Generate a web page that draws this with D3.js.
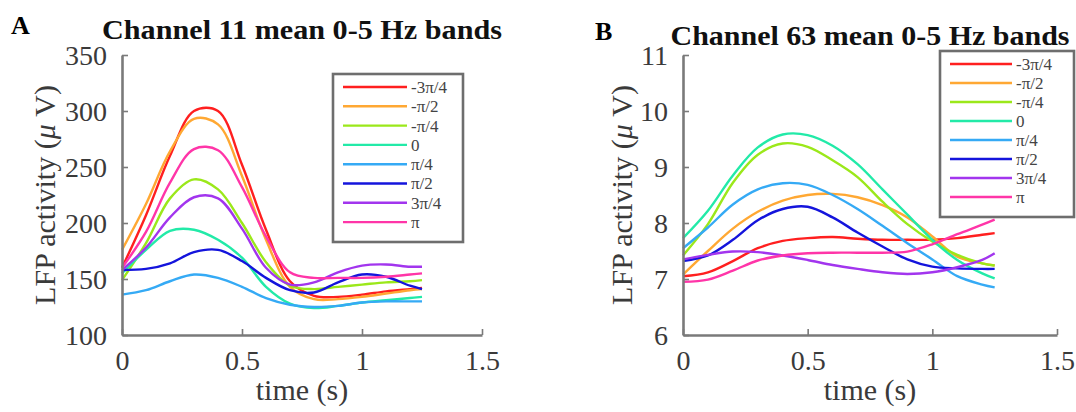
<!DOCTYPE html>
<html>
<head>
<meta charset="utf-8">
<script src="https://cdn.jsdelivr.net/npm/d3@7/dist/d3.min.js"></script>
<style>
  html, body { margin: 0; padding: 0; background: #fff; }
  svg { display: block; }
  svg text { font-family: "Liberation Serif", serif; }
</style>
</head>
<body>
<svg id="fig" width="1076" height="412"></svg>
<script>
const FONT = "Liberation Serif";

// Sample times (s) shared by every trace
const time = [0, 0.1, 0.2, 0.3, 0.4, 0.5, 0.6, 0.7, 0.8, 0.9, 1.0, 1.1, 1.2, 1.25];

// Phase bins and their colours
const phaseLabels = ["-3\u03c0/4", "-\u03c0/2", "-\u03c0/4", "0", "\u03c0/4", "\u03c0/2", "3\u03c0/4", "\u03c0"];
const phaseColors = ["#ff1f1f", "#ffa833", "#9be81a", "#22eaa8", "#35aaf5", "#1414dc", "#a235ee", "#ff35a8"];

// Channel 11, mean LFP activity (µV) per phase bin
const ch11_m3pi4 = [160, 207, 260, 300, 300, 252, 194, 148, 135, 134, 136, 139, 141, 142];
const ch11_mpi2  = [176, 217, 264, 293, 288, 242, 185, 143, 132, 132, 134, 137, 140, 141];
const ch11_mpi4  = [149, 182, 222, 239, 230, 200, 165, 144, 141, 143, 145, 147, 148, 149];
const ch11_0     = [155, 176, 193, 194, 185, 169, 143, 128, 124, 126, 129, 131, 133, 134];
const ch11_pi4   = [136, 140, 148, 154, 151, 143, 133, 127, 125, 126, 129, 130, 130, 130];
const ch11_pi2   = [158, 159, 164, 174, 176, 166, 151, 140, 138, 147, 154, 152, 144, 141];
const ch11_3pi4  = [158, 178, 205, 223, 222, 195, 160, 145, 147, 156, 162, 163, 161, 161];
const ch11_pi    = [160, 192, 236, 266, 265, 232, 188, 156, 151, 151, 151, 152, 154, 155];

// Channel 63, mean LFP activity (µV) per phase bin
const ch63_m3pi4 = [7.05, 7.12, 7.32, 7.55, 7.68, 7.73, 7.75, 7.72, 7.70, 7.70, 7.70, 7.73, 7.79, 7.82];
const ch63_mpi2  = [7.08, 7.50, 7.90, 8.20, 8.40, 8.50, 8.52, 8.46, 8.32, 8.10, 7.76, 7.40, 7.28, 7.24];
const ch63_mpi4  = [7.42, 7.98, 8.72, 9.22, 9.42, 9.36, 9.12, 8.82, 8.38, 7.98, 7.67, 7.43, 7.28, 7.24];
const ch63_0     = [7.73, 8.22, 8.85, 9.35, 9.58, 9.57, 9.38, 9.05, 8.60, 8.15, 7.70, 7.34, 7.10, 7.01];
const ch63_pi4   = [7.55, 7.92, 8.33, 8.60, 8.71, 8.68, 8.50, 8.25, 7.95, 7.64, 7.35, 7.05, 6.90, 6.85];
const ch63_pi2   = [7.32, 7.42, 7.70, 8.05, 8.25, 8.29, 8.10, 7.83, 7.58, 7.35, 7.22, 7.19, 7.18, 7.18];
const ch63_3pi4  = [7.35, 7.43, 7.49, 7.48, 7.42, 7.34, 7.25, 7.18, 7.12, 7.09, 7.12, 7.21, 7.34, 7.46];
const ch63_pi    = [6.95, 6.99, 7.15, 7.33, 7.42, 7.46, 7.47, 7.47, 7.47, 7.49, 7.62, 7.80, 7.97, 8.06];

// Axis ticks
const xTicks = [0, 0.5, 1, 1.5];
const yTicksA = [100, 150, 200, 250, 300, 350];
const yTicksB = [6, 7, 8, 9, 10, 11];

const svg = d3.select("#fig");

function drawPanel(cfg) {
  const { letter, title, series, yDomain, yTicks, box, legend, letterPos, titleLen, yLabelX } = cfg;
  const x = d3.scaleLinear().domain([0, 1.5]).range([box.left, box.right]);
  const y = d3.scaleLinear().domain(yDomain).range([box.bottom, box.top]);
  const g = svg.append("g");

  // panel letter and title
  g.append("text").attr("x", letterPos[0]).attr("y", letterPos[1])
    .attr("font-family", FONT).attr("font-size", 26).attr("font-weight", "bold")
    .attr("fill", "#000").text(letter);
  g.append("text").attr("x", (box.left + box.right) / 2).attr("y", letterPos[1] + 5)
    .attr("text-anchor", "middle").attr("font-family", FONT).attr("font-size", 27)
    .attr("font-weight", "bold").attr("fill", "#111")
    .attr("textLength", titleLen).attr("lengthAdjust", "spacingAndGlyphs")
    .text(title);

  // traces
  const line = d3.line()
    .x((d, i) => x(time[i]))
    .y(d => y(d))
    .curve(d3.curveCatmullRom.alpha(0.5));
  series.forEach((vals, k) => {
    g.append("path").datum(vals)
      .attr("d", line)
      .attr("fill", "none")
      .attr("stroke", phaseColors[k])
      .attr("stroke-width", 2.4)
      .attr("stroke-linejoin", "round");
  });

  // axes
  const xAxis = d3.axisBottom(x).tickValues(xTicks).tickSize(-6).tickSizeOuter(0).tickPadding(15)
    .tickFormat(d3.format("~g"));
  const yAxis = d3.axisLeft(y).tickValues(yTicks).tickSize(-6).tickSizeOuter(0).tickPadding(15)
    .tickFormat(d3.format("~g"));
  const gx = g.append("g").attr("transform", `translate(0,${box.bottom})`).call(xAxis);
  const gy = g.append("g").attr("transform", `translate(${box.left},0)`).call(yAxis);
  [gx, gy].forEach(a => {
    a.attr("font-family", FONT).attr("font-size", 28);
    a.select(".domain").attr("stroke", "#7a7a7a").attr("stroke-width", 2.6);
    a.selectAll(".tick line").attr("stroke", "#7a7a7a").attr("stroke-width", 1.6);
    a.selectAll(".tick text").attr("font-family", FONT).attr("fill", "#3a3a3a");
  });
  gy.selectAll(".tick text").attr("dy", "0.34em");

  // axis labels
  g.append("text").attr("x", (box.left + box.right) / 2).attr("y", 400)
    .attr("text-anchor", "middle").attr("font-family", FONT).attr("font-size", 30)
    .attr("fill", "#3a3a3a").text("time (s)");
  const yl = g.append("text")
    .attr("transform", `translate(${yLabelX},${(box.top + box.bottom) / 2}) rotate(-90)`)
    .attr("text-anchor", "middle").attr("font-family", FONT).attr("font-size", 30)
    .attr("fill", "#3a3a3a");
  yl.append("tspan").text("LFP activity (");
  yl.append("tspan").attr("font-style", "italic").text("\u03bc");
  yl.append("tspan").text(" V)");

  // legend
  const lg = g.append("g");
  lg.append("rect").attr("x", legend.x).attr("y", legend.y)
    .attr("width", legend.w).attr("height", legend.h)
    .attr("fill", "#fff").attr("stroke", "#6e6e6e").attr("stroke-width", 2.6);
  phaseLabels.forEach((lab, k) => {
    const yy = legend.y + legend.first + k * legend.step;
    lg.append("line").attr("x1", legend.x + 10).attr("x2", legend.x + 10 + legend.len)
      .attr("y1", yy).attr("y2", yy)
      .attr("stroke", phaseColors[k]).attr("stroke-width", 2.4);
    lg.append("text").attr("x", legend.x + 14 + legend.len).attr("y", yy)
      .attr("dy", "0.35em").attr("font-family", FONT).attr("font-size", 17)
      .attr("fill", "#444").text(lab);
  });
}

drawPanel({
  letter: "A",
  title: "Channel 11 mean 0-5 Hz bands",
  series: [ch11_m3pi4, ch11_mpi2, ch11_mpi4, ch11_0, ch11_pi4, ch11_pi2, ch11_3pi4, ch11_pi],
  yDomain: [100, 350],
  yTicks: yTicksA,
  box: { left: 122, right: 482, top: 55, bottom: 335 },
  legend: { x: 333, y: 74, w: 130, h: 168, first: 13, step: 19.3, len: 64 },
  letterPos: [11, 34],
  titleLen: 400,
  yLabelX: 55
});

drawPanel({
  letter: "B",
  title: "Channel 63 mean 0-5 Hz bands",
  series: [ch63_m3pi4, ch63_mpi2, ch63_mpi4, ch63_0, ch63_pi4, ch63_pi2, ch63_3pi4, ch63_pi],
  yDomain: [6, 11],
  yTicks: yTicksB,
  box: { left: 683, right: 1057, top: 55, bottom: 335 },
  legend: { x: 940, y: 51, w: 134, h: 166, first: 13, step: 19, len: 62 },
  letterPos: [595, 40],
  titleLen: 399,
  yLabelX: 632
});
</script>
</body>
</html>
